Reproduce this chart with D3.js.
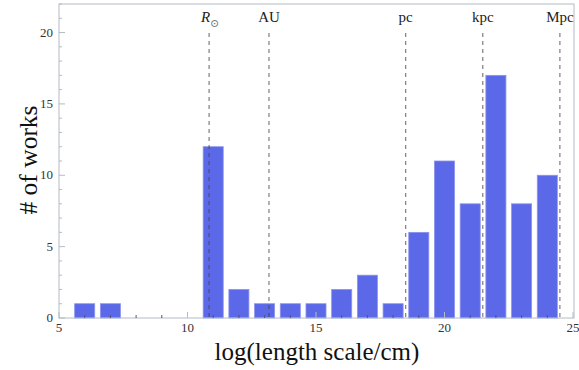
<!DOCTYPE html>
<html><head><meta charset="utf-8">
<script src="https://cdn.jsdelivr.net/npm/d3@7"></script>
<style>body{margin:0;background:#fff;} svg{display:block;}</style>
</head><body>
<svg id="c" width="579" height="370"></svg>
<script>
const binCenters = [6,7,8,9,10,11,12,13,14,15,16,17,18,19,20,21,22,23,24];
const counts     = [1,1,0,0,0,12,2,1,1,1,2,3,1,6,11,8,17,8,10];
const scaleNames = ["R","AU","pc","kpc","Mpc"];
const scaleLogs  = [10.84,13.17,18.49,21.49,24.49];
const xTicks = [5,10,15,20,25];
const yTicks = [0,5,10,15,20];

const svg = d3.select("#c");
const L=59, R=574, T=4, B=318;
const x = d3.scaleLinear().domain([5,25]).range([L,573]);
const y = d3.scaleLinear().domain([0,22]).range([B,T]);
const frameCol="#b4bcc4", textCol="#333", font="'Liberation Serif','DejaVu Serif',serif";

// bars
const bw = 0.78;
svg.append("g").selectAll("rect").data(binCenters).join("rect")
  .attr("x",(d)=>x(d-bw/2)).attr("width",(d)=>x(d+bw/2)-x(d-bw/2))
  .attr("y",(d,i)=>y(counts[i])).attr("height",(d,i)=>y(0)-y(counts[i]))
  .attr("fill","#5b68e8").attr("stroke",(d,i)=>counts[i]===0?"#aab0c8":"#8a93ec").attr("stroke-width",0.8);

// frame
svg.append("rect").attr("x",L).attr("y",T).attr("width",R-L).attr("height",B-T)
  .attr("fill","none").attr("stroke",frameCol).attr("stroke-width",1);

// y ticks
const yMinor = d3.range(0,23,1);
svg.append("g").selectAll("line").data(yMinor).join("line")
  .attr("x1",L).attr("x2",(d)=>L+(d%5===0?6:3)).attr("y1",d=>y(d)).attr("y2",d=>y(d))
  .attr("stroke",frameCol).attr("stroke-width",1);
svg.append("g").selectAll("text").data(yTicks).join("text")
  .attr("x",L-6).attr("y",d=>y(d)+4).attr("text-anchor","end")
  .attr("font-family",font).attr("font-size",13).attr("fill",textCol).text(d=>d);

// x ticks
const xMinor = d3.range(5,26,1);
svg.append("g").selectAll("line").data(xMinor).join("line")
  .attr("x1",d=>x(d)).attr("x2",d=>x(d)).attr("y1",B).attr("y2",d=>B-(d%5===0?6:3))
  .attr("stroke",d=>d%5===0?frameCol:"#556").attr("stroke-width",1);
svg.append("g").selectAll("text").data(xTicks).join("text")
  .attr("x",d=>x(d)).attr("y",B+14).attr("text-anchor","middle")
  .attr("font-family",font).attr("font-size",13).attr("fill",textCol).text(d=>d);

// dashed scale lines
svg.append("g").selectAll("line").data(scaleLogs).join("line")
  .attr("x1",d=>x(d)).attr("x2",d=>x(d)).attr("y1",33).attr("y2",B)
  .attr("stroke","#444").attr("stroke-opacity",0.75).attr("stroke-width",1.1).attr("stroke-dasharray","4,4");

// scale labels
const lab = svg.append("g").attr("font-family",font).attr("font-size",15).attr("fill","#222");
scaleNames.forEach((n,i)=>{
  const t = lab.append("text").attr("x",x(scaleLogs[i])).attr("y",22).attr("text-anchor","middle");
  if(n==="R"){
    t.append("tspan").attr("font-style","italic").text("R");
    t.append("tspan").attr("dy",5).attr("font-size",11).attr("fill","#777").text("\u2299");
    t.attr("x",x(scaleLogs[i])+1);
  } else t.text(n);
});

// axis labels
svg.append("text").attr("x",317).attr("y",360).attr("text-anchor","middle")
  .attr("font-family",font).attr("font-size",25).attr("fill","#111").text("log(length scale/cm)");
svg.append("text").attr("transform","translate(37,160) rotate(-90)").attr("text-anchor","middle")
  .attr("font-family",font).attr("font-size",25.5).attr("fill","#111").text("# of works");
</script>
</body></html>
